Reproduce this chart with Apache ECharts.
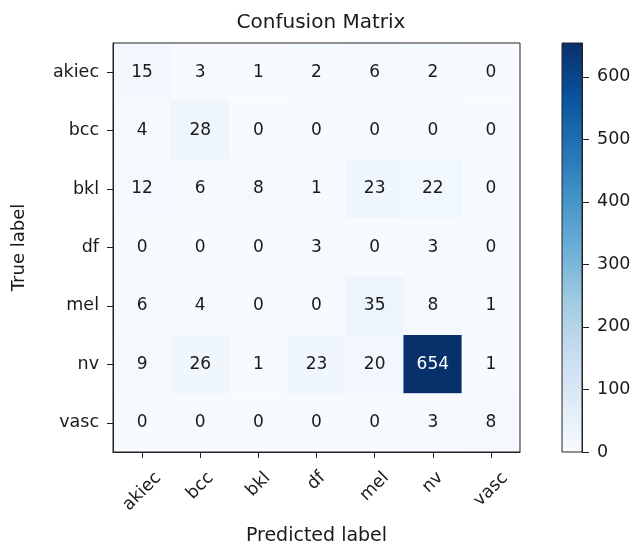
<!DOCTYPE html>
<html>
<head>
<meta charset="utf-8">
<title>Confusion Matrix</title>
<script src="https://cdn.jsdelivr.net/npm/echarts@6/dist/echarts.min.js"></script>
<style>
  html, body { margin: 0; padding: 0; background: #fff; }
  #chart { width: 630px; height: 545px; }
</style>
</head>
<body>
<div id="chart"></div>
<script>
// Class names, shared by both axes
const classes = ['akiec', 'bcc', 'bkl', 'df', 'mel', 'nv', 'vasc'];

// Counts per true class (rows), one entry per predicted class (columns)
const rowAkiec = [15, 3, 1, 2, 6, 2, 0];
const rowBcc   = [4, 28, 0, 0, 0, 0, 0];
const rowBkl   = [12, 6, 8, 1, 23, 22, 0];
const rowDf    = [0, 0, 0, 3, 0, 3, 0];
const rowMel   = [6, 4, 0, 0, 35, 8, 1];
const rowNv    = [9, 26, 1, 23, 20, 654, 1];
const rowVasc  = [0, 0, 0, 0, 0, 3, 8];

// Colorbar tick labels
const colorbarTicks = [0, 100, 200, 300, 400, 500, 600];

// "Blues" colormap stops, light to dark
const blues = ['#f7fbff', '#deebf7', '#c6dbef', '#9ecae1', '#6baed6',
               '#4292c6', '#2171b5', '#08519c', '#08306b'];

const rows = [rowAkiec, rowBcc, rowBkl, rowDf, rowMel, rowNv, rowVasc];
const vmax = Math.max(...rows.flat());
const thresh = vmax / 2;

const font = 'DejaVu Sans';
const ink = '#1a1a1a';
const frame = '#222';
const tickSize = 17.5;
const cellSize = 17;

const cells = [];
rows.forEach((row, r) => {
  row.forEach((v, c) => {
    cells.push({
      value: [c, r, v],
      label: { color: v > thresh ? '#ffffff' : ink }
    });
  });
});

// Rotated x labels: centre each rotated box under its tick, top edge aligned.
// The text is centred on the anchor, then pushed along its own frame with padding
// so that the rotated box hangs straight below the tick.
const measureCtx = document.createElement('canvas').getContext('2d');
measureCtx.font = tickSize + 'px "' + font + '"';
const xRich = {};
classes.forEach((name, i) => {
  const w = measureCtx.measureText(name).width;
  const p = Math.round((w + tickSize) / 2);
  xRich['k' + i] = {
    fontFamily: font, fontSize: tickSize, color: ink,
    padding: [p, p, 0, 0]
  };
});

const gradientStops = blues.map((col, i) => ({ offset: i / (blues.length - 1), color: col }));

const chart = echarts.init(document.getElementById('chart'), null, { renderer: 'canvas' });

chart.setOption({
  animation: false,
  backgroundColor: '#ffffff',
  textStyle: { fontFamily: font },
  title: {
    text: 'Confusion Matrix',
    left: 316,
    textAlign: 'center',
    top: 8,
    textStyle: { fontFamily: font, fontSize: 20, fontWeight: 'normal', color: ink }
  },
  grid: [
    {
      left: 113, top: 43, width: 407, height: 409, z: 5,
      show: true, borderColor: frame, borderWidth: 1, backgroundColor: 'transparent',
      outerBoundsMode: 'none'
    },
    {
      left: 562, top: 43, width: 20, height: 409, z: 5,
      show: true, borderColor: frame, borderWidth: 1, backgroundColor: 'transparent',
      outerBoundsMode: 'none'
    }
  ],
  xAxis: [
    {
      type: 'category', gridIndex: 0, data: classes, z: 6,
      name: 'Predicted label', nameLocation: 'middle', nameGap: 75,
      nameTextStyle: { fontFamily: font, fontSize: 19, color: ink },
      axisLine: { show: true, lineStyle: { color: frame, width: 1 } },
      axisTick: { show: true, alignWithLabel: true, length: 6, lineStyle: { color: frame } },
      axisLabel: {
        rotate: 45, margin: 17, align: 'center', verticalAlign: 'middle',
        fontFamily: font, fontSize: tickSize, color: ink,
        formatter: (v, i) => '{k' + i + '|' + v + '}',
        rich: xRich
      },
      splitLine: { show: false }
    },
    {
      type: 'category', gridIndex: 1, data: ['scale'],
      show: false
    }
  ],
  yAxis: [
    {
      type: 'category', gridIndex: 0, data: classes, inverse: true, z: 6,
      name: 'True label', nameLocation: 'middle', nameGap: 85, nameRotate: 90,
      nameTextStyle: { fontFamily: font, fontSize: 18, color: ink },
      axisLine: { show: true, lineStyle: { color: frame, width: 1 } },
      axisTick: { show: true, alignWithLabel: true, length: 6, lineStyle: { color: frame } },
      axisLabel: { margin: 14, fontFamily: font, fontSize: tickSize, color: ink },
      splitLine: { show: false }
    },
    {
      type: 'value', gridIndex: 1, position: 'right', z: 6,
      min: 0, max: vmax,
      axisLine: { show: true, lineStyle: { color: frame, width: 1 } },
      axisTick: { show: true, inside: false, length: 7, lineStyle: { color: frame }, customValues: colorbarTicks },
      axisLabel: { margin: 15, fontFamily: font, fontSize: tickSize, color: ink, customValues: colorbarTicks },
      splitLine: { show: false }
    }
  ],
  visualMap: {
    type: 'continuous',
    show: false,
    seriesIndex: 0,
    dimension: 2,
    min: 0,
    max: vmax,
    inRange: { color: blues }
  },
  series: [
    {
      type: 'heatmap',
      xAxisIndex: 0, yAxisIndex: 0,
      data: cells,
      label: {
        show: true,
        fontFamily: font,
        fontSize: cellSize,
        formatter: p => String(p.value[2])
      },
      itemStyle: { borderWidth: 0 },
      emphasis: { disabled: true }
    },
    {
      // colorbar drawn as a full-height bar with the colormap gradient
      type: 'bar',
      xAxisIndex: 1, yAxisIndex: 1,
      data: [vmax],
      barWidth: '100%',
      silent: true,
      itemStyle: {
        color: new echarts.graphic.LinearGradient(0, 1, 0, 0, gradientStops)
      }
    }
  ]
});
</script>
</body>
</html>
